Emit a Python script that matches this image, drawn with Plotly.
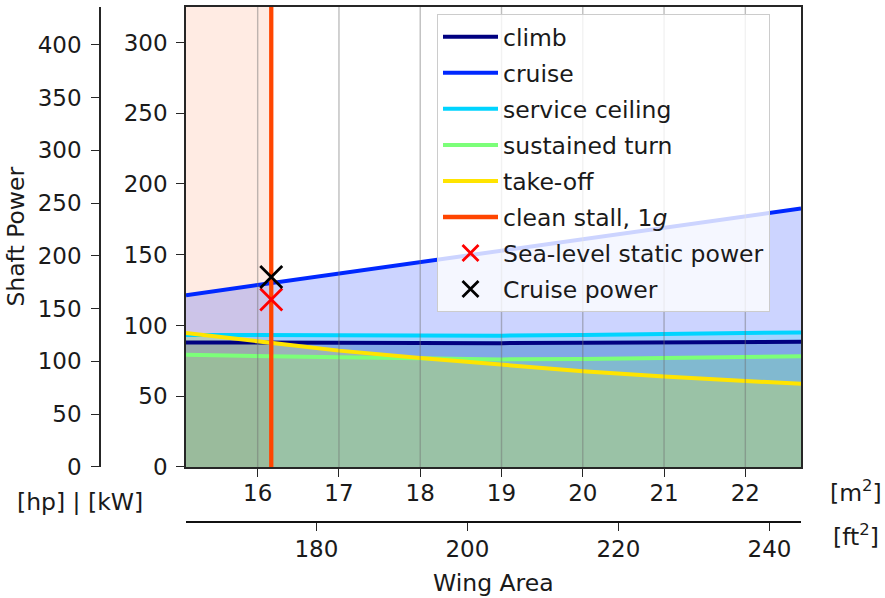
import plotly.graph_objects as go

# ---- data ----
area_m2 = [15.118, 16.0, 17.0, 18.0, 19.0, 20.0, 21.0, 22.0, 22.685]
climb_kw = [88.0, 87.8, 87.6, 87.5, 87.5, 87.7, 87.9, 88.2, 88.5]
cruise_kw = [121.4, 128.5, 136.6, 144.7, 152.8, 160.9, 169.0, 177.2, 182.7]
ceiling_kw = [93.3, 93.1, 92.9, 92.8, 92.8, 93.2, 93.8, 94.6, 95.1]
turn_kw = [79.2, 78.2, 77.5, 76.8, 76.0, 76.3, 77.0, 77.8, 78.2]
takeoff_kw = [94.6, 88.8, 82.2, 77.0, 72.2, 67.6, 63.9, 60.6, 58.7]
stall_area_m2 = 16.167
sl_static_power_kw = 118.3
cruise_power_kw = 134.3
kw_max = 325.1
KW_PER_HP = 0.7457
M2_TO_FT2 = 10.7639
m2_ticks = [16, 17, 18, 19, 20, 21, 22]
ft2_ticks = [180, 200, 220, 240]
kw_ticks = [0, 50, 100, 150, 200, 250, 300]
hp_ticks = [0, 50, 100, 150, 200, 250, 300, 350, 400]

W, H = 885, 598
ML, MR, MT, MB = 100, 84, 5, 76
PW, PH = W - ML - MR, H - MT - MB


def px(x):
    return (x - ML) / PW


def py(y):
    return (H - MB - y) / PH


FONT = "DejaVu Sans"
TXT = "#1a1a1a"
AX = "#262626"

c_climb = "rgb(0,0,128)"
c_cruise = "rgb(0,40,255)"
c_ceiling = "rgb(0,212,255)"
c_turn = "rgb(124,255,121)"
c_takeoff = "rgb(255,228,0)"
c_stall = "rgb(255,69,0)"

fig = go.Figure()

xmin, xmax = min(area_m2), max(area_m2)

# stall region shading
fig.add_trace(go.Scatter(x=[xmin, stall_area_m2], y=[kw_max, kw_max], mode="none",
                         fill="tozeroy", fillcolor="rgba(255,69,0,0.11)",
                         showlegend=False, hoverinfo="skip"))
# constraint fills
for ys, rgb in [(cruise_kw, (0, 40, 255)), (ceiling_kw, (0, 212, 255)),
                (climb_kw, (0, 0, 128)), (turn_kw, (124, 255, 121)),
                (takeoff_kw, (255, 228, 0))]:
    fig.add_trace(go.Scatter(x=area_m2, y=ys, mode="none", fill="tozeroy",
                             fillcolor="rgba(%d,%d,%d,0.2)" % rgb,
                             showlegend=False, hoverinfo="skip"))

lw = 4
for i, (name, ys, col) in enumerate([
        ("climb", climb_kw, c_climb), ("cruise", cruise_kw, c_cruise),
        ("service ceiling", ceiling_kw, c_ceiling), ("sustained turn", turn_kw, c_turn),
        ("take-off", takeoff_kw, c_takeoff)]):
    fig.add_trace(go.Scatter(x=area_m2, y=ys, mode="lines", name=name,
                             line=dict(color=col, width=lw), legendgroup="g%d" % i))

fig.add_trace(go.Scatter(x=[stall_area_m2, stall_area_m2], y=[0, kw_max], mode="lines",
                         name="clean stall, 1<i>g</i>", line=dict(color=c_stall, width=4.3),
                         legendgroup="g5"))
fig.add_trace(go.Scatter(x=[stall_area_m2], y=[sl_static_power_kw], mode="markers",
                         name="Sea-level static power", legendgroup="g6",
                         marker=dict(symbol="x-thin", size=22, color="red",
                                     line=dict(color="red", width=2.8))))
fig.add_trace(go.Scatter(x=[stall_area_m2], y=[cruise_power_kw], mode="markers",
                         name="Cruise power", legendgroup="g7",
                         marker=dict(symbol="x-thin", size=22, color="black",
                                     line=dict(color="black", width=2.8))))

# hidden traces to activate secondary axes
fig.add_trace(go.Scatter(x=[xmin * M2_TO_FT2], y=[0], xaxis="x2", yaxis="y",
                         mode="none", showlegend=False, hoverinfo="skip"))
fig.add_trace(go.Scatter(x=[xmin], y=[0], xaxis="x", yaxis="y2",
                         mode="none", showlegend=False, hoverinfo="skip"))

# vertical grid lines drawn above the fills (as in the reference)
for t in m2_ticks:
    fig.add_shape(type="line", xref="x", yref="y", x0=t, x1=t, y0=0, y1=kw_max,
                  line=dict(color="rgba(110,110,110,0.45)", width=1.4), layer="above")

tickfont = dict(family=FONT, size=23, color=TXT)
xdom = [px(186), 1.0]
ydom = [py(466.7), 1.0]

fig.update_layout(
    width=W, height=H,
    margin=dict(l=ML, r=MR, t=MT, b=MB, pad=0),
    paper_bgcolor="white", plot_bgcolor="white",
    font=dict(family=FONT, color=TXT),
    xaxis=dict(domain=xdom, range=[xmin, xmax], anchor="y", tickvals=m2_ticks,
               ticks="outside", ticklen=8, tickwidth=1.4, tickcolor=AX,
               showline=True, linecolor=AX, linewidth=1.6, mirror=True,
               showgrid=False, zeroline=False, tickfont=tickfont, ticklabelstandoff=-3),
    xaxis2=dict(domain=xdom, range=[xmin * M2_TO_FT2, xmax * M2_TO_FT2],
                overlaying="x", anchor="free", position=0, side="bottom",
                tickvals=ft2_ticks, ticks="outside", ticklen=8, tickwidth=1.4,
                tickcolor=AX, showline=True, linecolor="#111", linewidth=2.2,
                showgrid=False, zeroline=False, tickfont=tickfont, ticklabelstandoff=-2),
    yaxis=dict(domain=ydom, range=[0, kw_max], anchor="x", tickvals=kw_ticks,
               ticks="outside", ticklen=8, tickwidth=1.4, tickcolor=AX,
               showline=True, linecolor=AX, linewidth=1.6, mirror=True,
               showgrid=False, zeroline=False, tickfont=tickfont, ticklabelstandoff=4),
    yaxis2=dict(range=[0, kw_max / KW_PER_HP], overlaying="y", anchor="free",
                position=0, side="left", tickvals=hp_ticks, ticks="outside",
                ticklen=8, tickwidth=1.4, tickcolor=AX, showline=True,
                linecolor=AX, linewidth=1.6, showgrid=False, zeroline=False,
                tickfont=tickfont, ticklabelstandoff=5),
    legend=dict(x=px(437), y=py(12), xanchor="left", yanchor="top",
                bgcolor="rgba(255,255,255,0.8)", bordercolor="#cccccc", borderwidth=1,
                font=dict(family=FONT, size=23.5, color=TXT),
                traceorder="grouped", tracegroupgap=2.5, itemwidth=55),
    showlegend=True,
)

ann = dict(xref="paper", yref="paper", showarrow=False, xanchor="center", yanchor="middle",
           font=dict(family=FONT, size=23.5, color=TXT))
fig.add_annotation(text="Shaft Power", x=px(16), y=py(235.5), textangle=-90, **ann)
fig.add_annotation(text="[hp] | [kW]", x=px(80), y=py(501.7), **ann)
fig.add_annotation(text="[m<sup>2</sup>]", x=px(856), y=py(491), **ann)
fig.add_annotation(text="[ft<sup>2</sup>]", x=px(856), y=py(536), **ann)
fig.add_annotation(text="Wing Area", x=px(493.5), y=py(583), **ann)

fig.write_html("out.html", config={"displayModeBar": False},
               post_script="document.body.style.margin='0';document.body.style.padding='0';")
